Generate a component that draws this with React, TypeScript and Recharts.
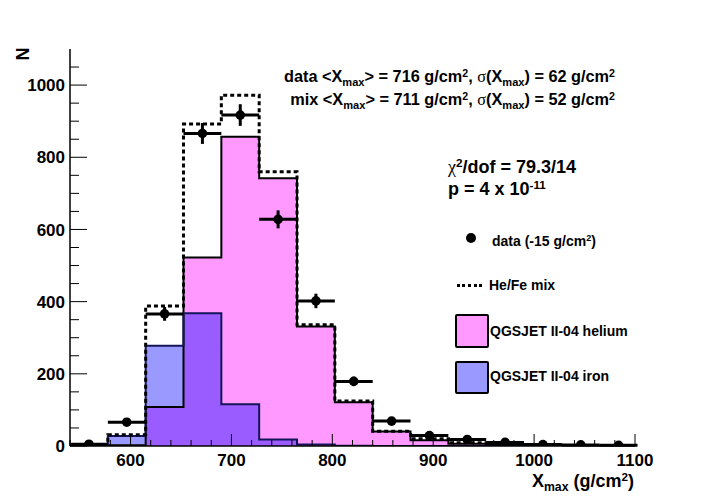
import React from "react";
import {
	Area,
	ComposedChart,
	ErrorBar,
	Line,
	Scatter,
	XAxis,
	YAxis,
} from "recharts";

document.body.style.margin = "0";

// histogram binning (g/cm2), 15 bins of 37.5
const binEdges = [
	540, 577.5, 615, 652.5, 690, 727.5, 765, 802.5, 840, 877.5, 915, 952.5, 990,
	1027.5, 1065, 1102.5,
];
const binCenters = [
	558.75, 596.25, 633.75, 671.25, 708.75, 746.25, 783.75, 821.25, 858.75,
	896.25, 933.75, 971.25, 1008.75, 1046.25, 1083.75,
];

// measured counts with errors
const dataCounts = [5, 66, 366, 866, 917, 628, 402, 179, 69, 29, 18, 10, 4, 3, 2];
const dataErrors = [2, 8, 19, 29, 30, 25, 20, 13, 8, 5, 4, 3, 2, 2, 1];

// simulation
const heliumCounts = [0, 2, 108, 522, 857, 742, 331, 121, 40, 16, 6, 3, 2, 1, 0];
const ironCounts = [0, 28, 278, 368, 116, 18, 4, 1, 0, 0, 0, 0, 0, 0, 0];
const mixCounts = [0, 31, 388, 892, 972, 760, 336, 125, 41, 20, 9, 5, 2, 1, 0];

const xMajorTicks = [600, 700, 800, 900, 1000, 1100];
const yMajorTicks = [0, 200, 400, 600, 800, 1000];
const xDomain = [540, 1100];
const yDomain = [0, 1100];

const steps = (from: number, to: number, step: number) => {
	const out: number[] = [];
	for (let v = from; v <= to; v += step) out.push(v);
	return out;
};
const xMinorTicks = steps(540, 1100, 20);
const yMinorTicks = steps(0, 1050, 50);

const last = binCenters.length - 1;
const histTable = binEdges.map((x, i) => {
	const k = Math.min(i, last);
	return {
		x,
		helium: heliumCounts[k],
		iron: ironCounts[k],
		mix: mixCounts[k],
		both: Math.min(heliumCounts[k], ironCounts[k]),
	};
});

const pointTable = binCenters.map((x, i) => ({
	x,
	n: dataCounts[i],
	ey: dataErrors[i],
	ex: (binEdges[i + 1] - binEdges[i]) / 2,
}));

const font = '"Liberation Sans", Arial, Helvetica, sans-serif';
const greek = '"Liberation Serif", "DejaVu Serif", serif';

const PINK = "#ff99ff";
const BLUE = "#9999ff";
const PURPLE = "#9a5cff";

const XTick = (props: any) => {
	const { x, y, payload } = props;
	const v = payload.value;
	const major = xMajorTicks.includes(v);
	return (
		<g>
			<line x1={x} x2={x} y1={y} y2={y - (major ? 12 : 6)} stroke="#000" strokeWidth={1} />
			{major && (
				<text
					x={x}
					y={y + 20}
					textAnchor="middle"
					fontFamily={font}
					fontWeight="bold"
					fontSize={17}
					fill="#000"
				>
					{v}
				</text>
			)}
		</g>
	);
};

const YTick = (props: any) => {
	const { x, y, payload } = props;
	const v = payload.value;
	const major = yMajorTicks.includes(v);
	return (
		<g>
			<line x1={x} x2={x + (major ? 17 : 9)} y1={y} y2={y} stroke="#000" strokeWidth={1} />
			{major && (
				<text
					x={x - 5}
					y={y}
					dy="0.36em"
					textAnchor="end"
					fontFamily={font}
					fontWeight="bold"
					fontSize={17}
					fill="#000"
				>
					{v}
				</text>
			)}
		</g>
	);
};

const Sub = ({ children }: { children: React.ReactNode }) => (
	<span style={{ fontSize: "0.68em", verticalAlign: "-0.3em" }}>{children}</span>
);
const Sup = ({ children }: { children: React.ReactNode }) => (
	<span style={{ fontSize: "0.65em", verticalAlign: "0.5em" }}>{children}</span>
);
const Gr = ({ children }: { children: React.ReactNode }) => (
	<span style={{ fontFamily: greek, fontWeight: "normal" }}>{children}</span>
);

const textBase: React.CSSProperties = {
	position: "absolute",
	fontFamily: font,
	fontWeight: "bold",
	color: "#000",
	whiteSpace: "nowrap",
};

export default function App() {
	return (
		<div style={{ position: "relative", width: 706, height: 496, background: "#fff" }}>
			<ComposedChart
				width={706}
				height={496}
				data={histTable}
				margin={{ top: 49, right: 71, bottom: 0, left: 0 }}
			>
				<XAxis
					dataKey="x"
					type="number"
					domain={xDomain}
					allowDataOverflow
					ticks={xMinorTicks}
					interval={0}
					tick={<XTick />}
					tickLine={false}
					tickSize={0}
					tickMargin={0}
					axisLine={{ stroke: "#000", strokeWidth: 1.5 }}
					height={50}
				/>
				<XAxis
					xAxisId="top"
					orientation="top"
					type="number"
					domain={xDomain}
					allowDataOverflow
					tick={false}
					tickLine={false}
					axisLine={{ stroke: "#000", strokeWidth: 1.5 }}
					height={0}
				/>
				<YAxis
					type="number"
					domain={yDomain}
					allowDataOverflow
					ticks={yMinorTicks}
					interval={0}
					tick={<YTick />}
					tickLine={false}
					tickSize={0}
					tickMargin={0}
					axisLine={{ stroke: "#000", strokeWidth: 1.5 }}
					width={70}
				/>
				<YAxis
					yAxisId="right"
					orientation="right"
					type="number"
					domain={yDomain}
					allowDataOverflow
					tick={false}
					tickLine={false}
					axisLine={{ stroke: "#000", strokeWidth: 1.5 }}
					width={0}
				/>

				<Area
					dataKey="helium"
					type="stepAfter"
					fill={PINK}
					fillOpacity={1}
					stroke="none"
					dot={false}
					activeDot={false}
					isAnimationActive={false}
				/>
				<Area
					dataKey="iron"
					type="stepAfter"
					fill={BLUE}
					fillOpacity={1}
					stroke="none"
					dot={false}
					activeDot={false}
					isAnimationActive={false}
				/>
				<Area
					dataKey="both"
					type="stepAfter"
					fill={PURPLE}
					fillOpacity={1}
					stroke="none"
					dot={false}
					activeDot={false}
					isAnimationActive={false}
				/>
				<Line
					dataKey="helium"
					type="stepAfter"
					stroke="#000"
					strokeWidth={2}
					dot={false}
					activeDot={false}
					isAnimationActive={false}
				/>
				<Line
					dataKey="iron"
					type="stepAfter"
					stroke="#14145a"
					strokeWidth={2}
					dot={false}
					activeDot={false}
					isAnimationActive={false}
				/>
				<Line
					dataKey="mix"
					type="stepAfter"
					stroke="#000"
					strokeWidth={3}
					strokeDasharray="4 3"
					dot={false}
					activeDot={false}
					isAnimationActive={false}
				/>
				<Scatter
					data={pointTable}
					dataKey="n"
					isAnimationActive={false}
					shape={(p: any) => <circle cx={p.cx} cy={p.cy} r={4.8} fill="#000" />}
				>
					<ErrorBar dataKey="ex" direction="x" width={0} stroke="#000" strokeWidth={3} />
					<ErrorBar dataKey="ey" direction="y" width={0} stroke="#000" strokeWidth={3} />
				</Scatter>
			</ComposedChart>

			{/* axis titles */}
			<div
				style={{
					...textBase,
					fontSize: 18,
					left: 16,
					top: 44,
					lineHeight: "20px",
					transform: "rotate(-90deg)",
					transformOrigin: "center",
				}}
			>
				N
			</div>
			<div style={{ ...textBase, fontSize: 18, right: 72, top: 466, lineHeight: "22px" }}>
				X<Sub>max</Sub> (g/cm<Sup>2</Sup>)
			</div>

			{/* statistics */}
			<div style={{ ...textBase, fontSize: 16.3, right: 91, top: 64, lineHeight: "19px" }}>
				data &lt;X<Sub>max</Sub>&gt; = 716 g/cm<Sup>2</Sup>, <Gr>σ</Gr>(X<Sub>max</Sub>) = 62 g/cm
				<Sup>2</Sup>
			</div>
			<div style={{ ...textBase, fontSize: 16.3, right: 91, top: 87, lineHeight: "19px" }}>
				mix &lt;X<Sub>max</Sub>&gt; = 711 g/cm<Sup>2</Sup>, <Gr>σ</Gr>(X<Sub>max</Sub>) = 52 g/cm
				<Sup>2</Sup>
			</div>
			<div style={{ ...textBase, fontSize: 18, left: 448, top: 152, lineHeight: "22px" }}>
				<Gr>χ</Gr>
				<Sup>2</Sup>/dof = 79.3/14
			</div>
			<div style={{ ...textBase, fontSize: 18, left: 448, top: 174, lineHeight: "22px" }}>
				p = 4 x 10<Sup>-11</Sup>
			</div>

			{/* legend */}
			<div
				style={{
					position: "absolute",
					left: 466,
					top: 233,
					width: 10,
					height: 10,
					borderRadius: "50%",
					background: "#000",
				}}
			/>
			<div style={{ ...textBase, fontSize: 14, left: 492, top: 229, lineHeight: "18px" }}>
				data (-15 g/cm<Sup>2</Sup>)
			</div>
			<div
				style={{
					position: "absolute",
					left: 457,
					top: 284,
					width: 25,
					height: 0,
					borderTop: "3px dotted #000",
				}}
			/>
			<div style={{ ...textBase, fontSize: 14, left: 489, top: 276, lineHeight: "18px" }}>
				He/Fe mix
			</div>
			<div
				style={{
					position: "absolute",
					left: 455,
					top: 314,
					width: 30,
					height: 30,
					background: PINK,
					border: "2px solid #000",
					borderRadius: 2,
				}}
			/>
			<div style={{ ...textBase, fontSize: 14, left: 490, top: 322, lineHeight: "18px" }}>
				QGSJET II-04 helium
			</div>
			<div
				style={{
					position: "absolute",
					left: 455,
					top: 361,
					width: 30,
					height: 29,
					background: BLUE,
					border: "2px solid #000",
					borderRadius: 2,
				}}
			/>
			<div style={{ ...textBase, fontSize: 14, left: 490, top: 367, lineHeight: "18px" }}>
				QGSJET II-04 iron
			</div>
		</div>
	);
}
